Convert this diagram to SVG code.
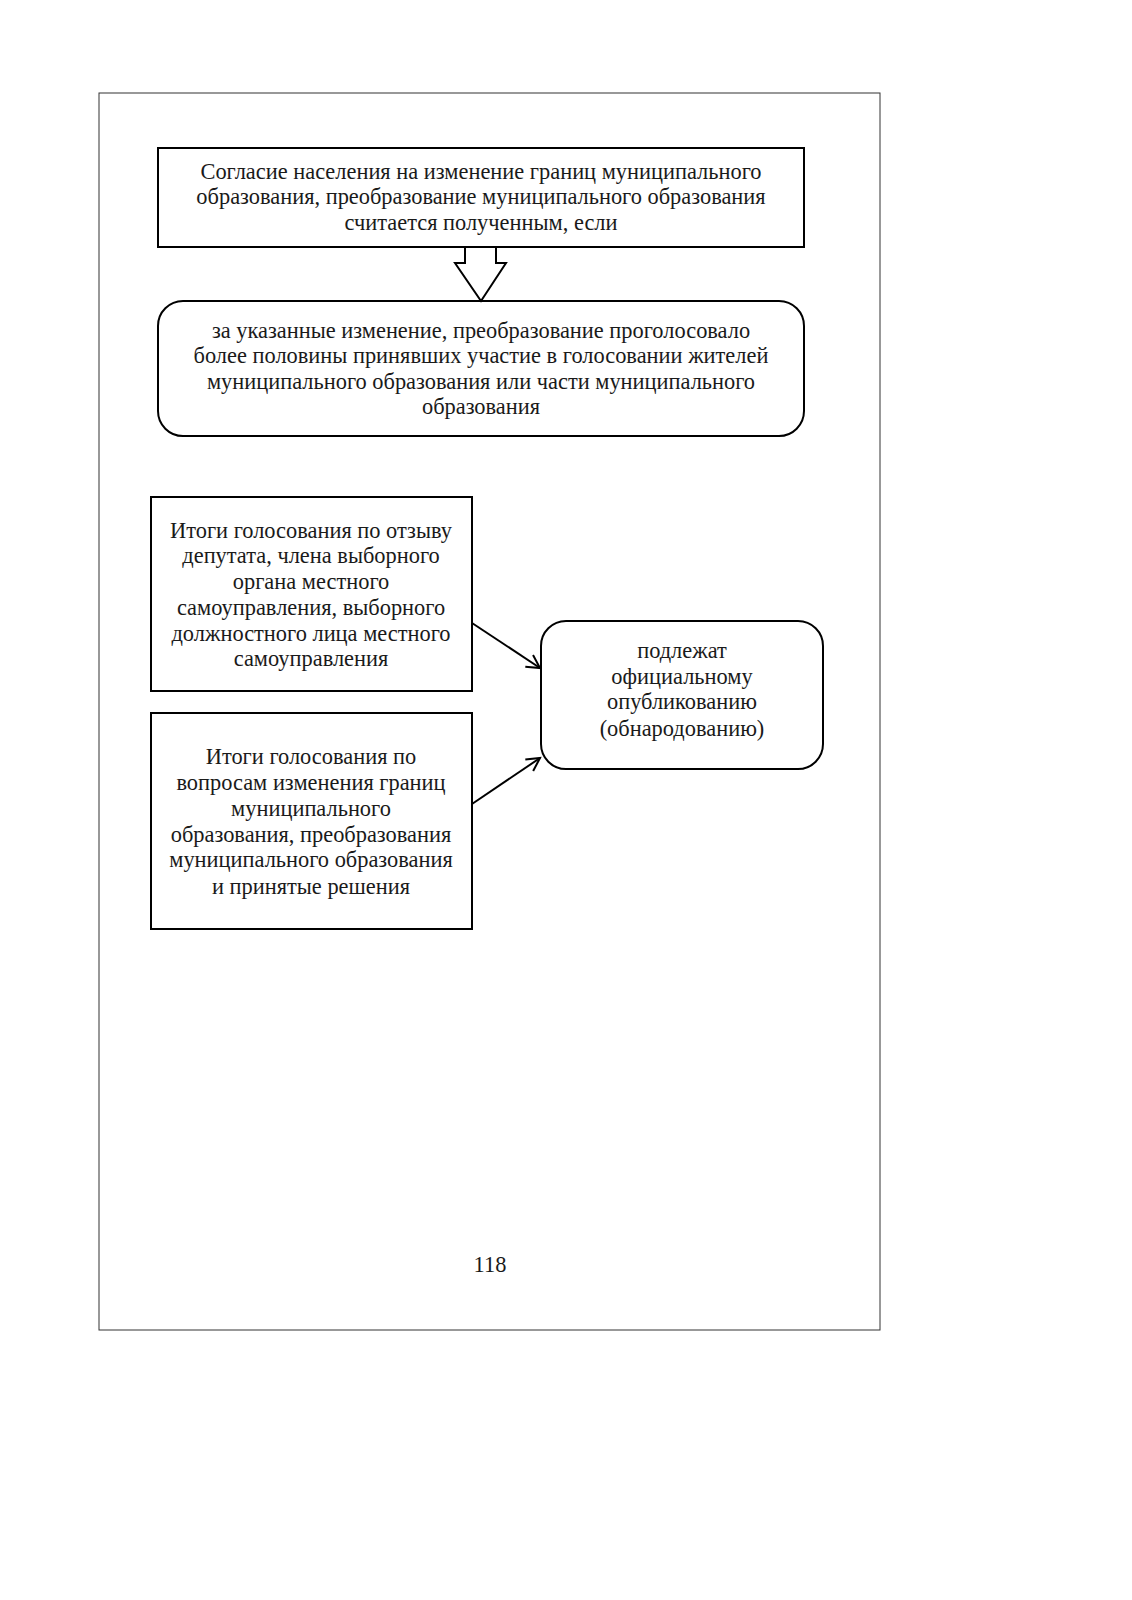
<svg xmlns="http://www.w3.org/2000/svg" width="1132" height="1600" viewBox="0 0 1132 1600">
<defs>
<style>
.t{font-family:"Liberation Serif","Times New Roman",serif;font-size:22.4px;fill:#1a1a1a;text-anchor:middle}
.b{fill:#fff;stroke:#000;stroke-width:2}
.c{fill:none;stroke:#000;stroke-width:2}
</style>
<marker id="ah" markerWidth="20" markerHeight="20" refX="14" refY="8" orient="auto" markerUnits="userSpaceOnUse">
<polyline points="1,1 14,8 1,15" fill="none" stroke="#000" stroke-width="2"/>
</marker>
</defs>
<rect width="1132" height="1600" fill="#fff"/>
<rect x="99" y="93" width="781" height="1237" fill="none" stroke="#333" stroke-width="1"/>
<g id="n1">
<rect class="b" x="158" y="148" width="646" height="99"/>
<text class="t" x="481" y="179">Согласие населения на изменение границ муниципального</text>
<text class="t" x="481" y="204">образования, преобразование муниципального образования</text>
<text class="t" x="481" y="230">считается полученным, если</text>
</g>
<g id="n2">
<rect class="b" x="158" y="301" width="646" height="135" rx="25" ry="25"/>
<text class="t" x="481" y="338">за указанные изменение, преобразование проголосовало</text>
<text class="t" x="481" y="363">более половины принявших участие в голосовании жителей</text>
<text class="t" x="481" y="389">муниципального образования или части муниципального</text>
<text class="t" x="481" y="414">образования</text>
</g>
<g id="n3">
<rect class="b" x="151" y="497" width="321" height="194"/>
<text class="t" x="311" y="538">Итоги голосования по отзыву</text>
<text class="t" x="311" y="563">депутата, члена выборного</text>
<text class="t" x="311" y="589">органа местного</text>
<text class="t" x="311" y="615">самоуправления, выборного</text>
<text class="t" x="311" y="641">должностного лица местного</text>
<text class="t" x="311" y="666">самоуправления</text>
</g>
<g id="n4">
<rect class="b" x="151" y="713" width="321" height="216"/>
<text class="t" x="311" y="764">Итоги голосования по</text>
<text class="t" x="311" y="790">вопросам изменения границ</text>
<text class="t" x="311" y="816">муниципального</text>
<text class="t" x="311" y="842">образования, преобразования</text>
<text class="t" x="311" y="867">муниципального образования</text>
<text class="t" x="311" y="894">и принятые решения</text>
</g>
<g id="n5">
<rect class="b" x="541" y="621" width="282" height="148" rx="25" ry="25"/>
<text class="t" x="682" y="658">подлежат</text>
<text class="t" x="682" y="684">официальному</text>
<text class="t" x="682" y="709">опубликованию</text>
<text class="t" x="682" y="736">(обнародованию)</text>
</g>
<g id="connectors">
<polygon class="b" points="465,247 496,247 496,263 506,263 481,301 455,263 465,263"/>
<line class="c" x1="472" y1="623" x2="540" y2="668" marker-end="url(#ah)"/>
<line class="c" x1="472" y1="804" x2="540" y2="758" marker-end="url(#ah)"/>
</g>
<text class="t" x="490" y="1272">118</text>
</svg>
